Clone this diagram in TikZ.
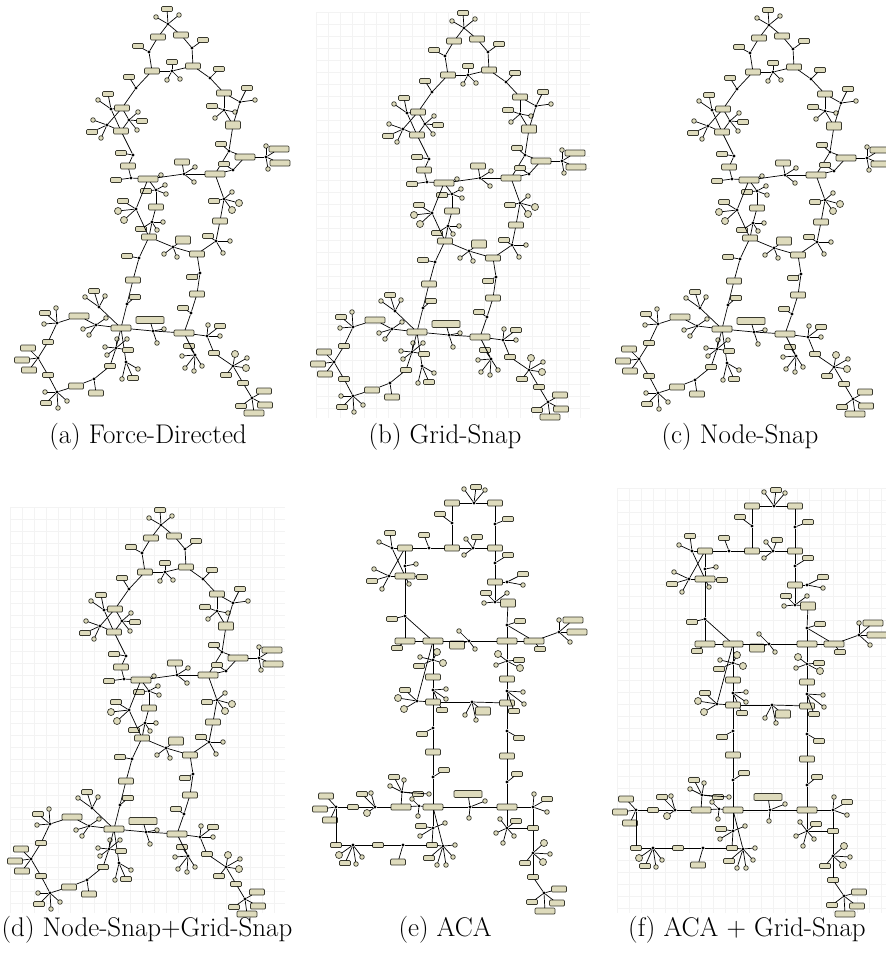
\documentclass[tikz,border=0pt]{standalone}
\definecolor{khaki}{RGB}{222,219,188}
\definecolor{nbord}{RGB}{55,55,45}
\definecolor{gridc}{RGB}{243,243,243}
\tikzset{
 ed/.style={line width=0.7pt, draw=black},
 nbase/.style={draw=nbord, fill=khaki, line width=0.7pt, inner sep=0pt, outer sep=0pt},
 rbox/.style={nbase, rectangle, rounded corners=1pt},
 rs/.style={rbox, minimum width=11pt, minimum height=5pt},
 rm/.style={rbox, minimum width=15pt, minimum height=6pt},
 rt/.style={rbox, minimum width=15pt, minimum height=8pt},
 rl/.style={rbox, minimum width=20pt, minimum height=6pt},
 rxl/.style={rbox, minimum width=28pt, minimum height=7pt},
 jd/.style={circle, fill=black, inner sep=0pt, minimum size=3.2pt},
 cs/.style={nbase, circle, minimum size=4.6pt},
 cl/.style={nbase, circle, minimum size=7pt},
 gl/.style={draw=gridc, line width=0.5pt},
 captext/.style={font=\fontsize{27}{32}\selectfont, inner sep=0pt}
}
\newcounter{lc}
\def\pfx{a}
\newcommand\Nd[4]{\node[#1] (\pfx#2) at (#3,#4) {};}
\newcommand\Ed[2]{\draw[ed] (\pfx#1) -- (\pfx#2);}
\newcommand\Lf[4]{\stepcounter{lc}\node[#1] (\pfx l\arabic{lc}) at (#2,#3) {};\draw[ed] (\pfx#4) -- (\pfx l\arabic{lc});}
\newcommand\FDgraph{%
\Nd{jd}{j1}{168}{24}\Lf{rs}{167}{9}{j1}\Lf{cs}{156}{17}{j1}\Lf{cs}{179}{15}{j1}
\Nd{rm}{r1}{158}{37}\Nd{rm}{r2}{181}{35}\Ed{j1}{r1}\Ed{j1}{r2}
\Nd{jd}{j2}{149}{52}\Lf{rs}{138}{46}{j2}\Ed{r1}{j2}
\Nd{jd}{j3}{192}{48}\Lf{rs}{203}{40}{j3}\Ed{r2}{j3}
\Nd{rm}{r3}{152}{71}\Nd{rm}{r4}{193}{66}\Ed{j2}{r3}\Ed{j3}{r4}
\Nd{jd}{j4}{172}{71}\Lf{rs}{172}{62}{j4}\Lf{cs}{167}{80}{j4}\Lf{cs}{180}{79}{j4}\Ed{r3}{j4}\Ed{j4}{r4}
\Nd{jd}{j5}{136}{88}\Lf{rs}{129}{77}{j5}\Ed{r3}{j5}
\Nd{rm}{r5}{122}{108}\Ed{j5}{r5}
\Nd{jd}{j6}{111}{109}\Lf{rs}{108}{94}{j6}\Lf{cs}{98}{100}{j6}
\Nd{jd}{j7}{129}{120}\Lf{cs}{138}{112}{j7}\Lf{rs}{142}{121}{j7}\Lf{cs}{137}{130}{j7}
\Nd{jd}{j8}{107}{125}\Lf{cs}{93}{120}{j8}\Lf{rs}{92}{132}{j8}\Lf{cs}{101}{138}{j8}
\Nd{rm}{r6}{121}{131}
\Ed{j6}{r5}\Ed{j6}{r6}\Ed{j8}{r5}\Ed{j8}{r6}\Ed{j7}{r5}\Ed{j7}{r6}
\Nd{jd}{j9}{133}{155}\Lf{rs}{121}{153}{j9}\Ed{r6}{j9}
\Nd{rm}{r7}{128}{166}\Ed{j9}{r7}
\Nd{jd}{j10}{131}{178}\Lf{rs}{116}{180}{j10}\Ed{r7}{j10}
\Nd{rl}{R8}{148}{179}\Ed{j10}{R8}\Lf{cs}{161}{175}{R8}
\Nd{jd}{j11}{210}{78}\Lf{rs}{219}{69}{j11}\Ed{r4}{j11}
\Nd{rm}{r9}{224}{93}\Ed{j11}{r9}
\Nd{jd}{j12}{240}{102}\Lf{rs}{247}{88}{j12}\Lf{cs}{255}{100}{j12}
\Nd{jd}{j13}{224}{110}\Lf{rs}{212}{106}{j13}\Lf{cs}{215}{118}{j13}\Lf{cs}{235}{112}{j13}
\Nd{rt}{r10}{233}{125}
\Ed{r9}{j12}\Ed{j12}{r10}\Ed{r9}{j13}\Ed{j13}{r10}
\Nd{jd}{j14}{229}{151}\Lf{rs}{221}{144}{j14}\Ed{r10}{j14}
\Nd{rl}{R11}{215}{174}\Ed{j14}{R11}
\Nd{rl}{r12}{245}{157}\Ed{j14}{r12}
\Nd{jd}{j15}{266}{157}\Lf{cs}{266}{146}{j15}\Lf{rl}{279}{149}{j15}\Lf{rl}{280}{163}{j15}\Lf{cs}{268}{169}{j15}\Ed{r12}{j15}
\Nd{jd}{j16}{233}{170}\Lf{rs}{224}{164}{j16}\Ed{r12}{j16}\Ed{j16}{R11}
\Nd{jd}{j17}{184}{174}\Lf{rm}{182}{162}{j17}\Lf{cs}{195}{167}{j17}\Lf{cs}{194}{182}{j17}\Ed{R8}{j17}\Ed{j17}{R11}
\Nd{jd}{j18}{156}{190}\Lf{cs}{165}{185}{j18}\Lf{cs}{166}{194}{j18}\Lf{rs}{146}{191}{j18}\Ed{R8}{j18}
\Nd{rm}{r13}{156}{207}\Ed{j18}{r13}
\Nd{jd}{j19}{136}{209}\Lf{rs}{123}{201}{j19}\Lf{cl}{118}{211}{j19}\Lf{cl}{124}{220}{j19}\Ed{R8}{j19}
\Nd{jd}{j20}{152}{222}\Lf{cs}{163}{222}{j20}\Lf{cs}{157}{230}{j20}\Lf{rs}{141}{229}{j20}\Ed{r13}{j20}
\Nd{rm}{R14}{149}{237}\Ed{j20}{R14}\Ed{j19}{R14}
\Nd{jd}{j21}{173}{247}\Lf{rt}{183}{240}{j21}\Lf{cs}{164}{254}{j21}\Lf{cs}{177}{257}{j21}\Ed{R14}{j21}
\Nd{rm}{r15}{197}{254}\Ed{j21}{r15}
\Nd{jd}{j22}{216}{241}\Lf{rs}{208}{236}{j22}\Lf{cs}{230}{241}{j22}\Lf{cs}{223}{253}{j22}\Ed{r15}{j22}
\Nd{rm}{r16}{220}{221}\Ed{j22}{r16}
\Nd{jd}{j23}{224}{199}\Lf{rs}{214}{201}{j23}\Lf{cs}{232}{192}{j23}\Lf{cl}{239}{203}{j23}\Lf{cl}{232}{210}{j23}\Ed{r16}{j23}\Ed{j23}{R11}
\Nd{jd}{j24}{139}{258}\Lf{rs}{127}{256}{j24}\Ed{R14}{j24}
\Nd{rm}{r17}{133}{280}\Ed{j24}{r17}
\Nd{jd}{j25}{127}{304}\Lf{rs}{135}{297}{j25}\Ed{r17}{j25}
\Nd{rl}{R18}{121}{328}\Ed{j25}{R18}
\Nd{jd}{j26}{200}{273}\Lf{rs}{192}{277}{j26}\Ed{r15}{j26}
\Nd{rm}{r19}{197}{294}\Ed{j26}{r19}
\Nd{jd}{j27}{191}{313}\Lf{rs}{183}{308}{j27}\Ed{r19}{j27}
\Nd{rl}{R20}{184}{333}\Ed{j27}{R20}
\Nd{jd}{j28}{153}{331}\Lf{rxl}{150}{320}{j28}\Lf{cs}{164}{329}{j28}\Lf{cs}{157}{343}{j28}\Ed{R18}{j28}\Ed{j28}{R20}
\Nd{jd}{j29}{207}{336}\Lf{cs}{208}{325}{j29}\Lf{rs}{220}{326}{j29}\Lf{cs}{220}{336}{j29}\Ed{R20}{j29}
\Nd{rs}{r21}{214}{353}\Ed{j29}{r21}
\Nd{jd}{j30}{195}{355}\Lf{rs}{189}{346}{j30}\Lf{cs}{182}{356}{j30}\Lf{cs}{185}{368}{j30}\Lf{cs}{194}{371}{j30}\Lf{cs}{202}{366}{j30}\Ed{R20}{j30}
\Nd{jd}{j31}{233}{366}\Lf{cl}{235}{354}{j31}\Lf{cs}{247}{358}{j31}\Lf{cl}{246}{368}{j31}\Lf{rs}{226}{375}{j31}\Ed{r21}{j31}
\Nd{rs}{r22}{243}{383}\Ed{j31}{r22}
\Nd{jd}{j32}{252}{398}\Lf{rm}{264}{391}{j32}\Lf{rm}{265}{405}{j32}\Lf{rl}{254}{413}{j32}\Lf{rs}{241}{406}{j32}\Ed{r22}{j32}
\Nd{jd}{j33}{99}{307}\Lf{rs}{94}{291}{j33}\Lf{cs}{85}{297}{j33}\Lf{cs}{105}{296}{j33}\Ed{j33}{R18}
\Nd{rl}{r23}{79}{316}
\Nd{jd}{j34}{96}{325}\Lf{cs}{106}{318}{j34}\Lf{cs}{83}{329}{j34}\Lf{cs}{89}{335}{j34}\Ed{r23}{j34}\Ed{j34}{R18}
\Nd{jd}{j35}{57}{323}\Lf{rs}{45}{313}{j35}\Lf{cs}{56}{308}{j35}\Lf{cs}{44}{324}{j35}\Ed{j35}{r23}
\Nd{rs}{r24}{48}{342}\Ed{j35}{r24}
\Nd{jd}{j36}{38}{358}\Lf{rm}{28}{348}{j36}\Lf{rm}{22}{360}{j36}\Lf{rm}{29}{370}{j36}\Ed{r24}{j36}
\Nd{rs}{r25}{48}{375}\Ed{j36}{r25}
\Nd{jd}{j37}{57}{392}\Lf{cs}{45}{392}{j37}\Lf{rs}{46}{403}{j37}\Lf{cs}{58}{408}{j37}\Lf{cs}{67}{401}{j37}\Ed{r25}{j37}
\Nd{rm}{r26}{76}{386}\Ed{j37}{r26}
\Nd{jd}{j38}{94}{379}\Lf{rm}{96}{393}{j38}\Ed{r26}{j38}
\Nd{rs}{r27}{110}{366}\Ed{j38}{r27}
\Nd{jd}{j39}{126}{362}\Lf{cs}{138}{369}{j39}\Lf{rs}{133}{378}{j39}\Lf{cs}{122}{379}{j39}\Ed{j39}{R18}
\Nd{jd}{j40}{116}{348}\Lf{cs}{105}{347}{j40}\Lf{cs}{107}{355}{j40}\Lf{cs}{117}{339}{j40}\Lf{cs}{127}{339}{j40}\Lf{rs}{128}{350}{j40}\Ed{r27}{j40}\Ed{j40}{R18}
}
\newcommand\ACAgraph{%
\Nd{jd}{A1}{474}{503}\Lf{rs}{476}{487}{A1}\Lf{cs}{464}{489}{A1}\Lf{cs}{485}{490}{A1}
\Nd{rm}{a1}{452}{503}\Nd{rm}{a2}{495}{503}\Ed{A1}{a1}\Ed{A1}{a2}
\Nd{jd}{A2}{452}{523}\Lf{rs}{440}{514}{A2}\Ed{a1}{A2}
\Nd{jd}{A3}{495}{524}\Lf{rs}{508}{519}{A3}\Ed{a2}{A3}
\Nd{rm}{a3}{452}{548}\Nd{rm}{a4}{495}{548}\Ed{A2}{a3}\Ed{A3}{a4}
\Nd{jd}{A4}{473}{548}\Lf{rs}{477}{537}{A4}\Lf{cs}{466}{539}{A4}\Lf{cs}{464}{555}{A4}\Ed{a3}{A4}\Ed{A4}{a4}
\Nd{jd}{A5}{429}{548}\Lf{rs}{424}{535}{A5}\Ed{a3}{A5}
\Nd{rm}{a5}{405}{548}\Ed{A5}{a5}
\Nd{jd}{X1}{392}{548}\Lf{rs}{390}{533}{X1}\Lf{cs}{379}{542}{X1}
\Nd{jd}{X2}{405}{566}\Lf{cs}{416}{564}{X2}
\Nd{rl}{a6}{405}{576}\Lf{rs}{422}{577}{a6}\Lf{cs}{409}{584}{a6}
\Nd{jd}{X3}{389}{576}\Lf{cs}{374}{569}{X3}\Lf{rs}{372}{581}{X3}\Lf{cs}{382}{589}{X3}
\Ed{a5}{X2}\Ed{X2}{a6}\Ed{X1}{a6}\Ed{a5}{X3}\Ed{X3}{a6}\Ed{X1}{a5}
\Nd{jd}{A6}{405}{616}\Lf{rs}{392}{619}{A6}\Ed{a6}{A6}
\Nd{rl}{a7}{405}{641}\Lf{rs}{397}{648}{a7}
\Nd{rl}{a8}{433}{641}
\Ed{A6}{a7}\Ed{A6}{a8}\Ed{a7}{a8}
\Nd{jd}{A7}{495}{563}\Lf{rs}{508}{555}{A7}\Ed{a4}{A7}
\Nd{rm}{a9}{495}{582}\Ed{A7}{a9}
\Nd{jd}{A8}{507}{582}\Lf{rs}{523}{574}{A8}\Lf{cs}{523}{585}{A8}\Ed{a9}{A8}
\Nd{jd}{A9}{495}{602}\Lf{rs}{486}{593}{A9}\Lf{cs}{484}{603}{A9}\Lf{cs}{507}{593}{A9}\Ed{a9}{A9}
\Nd{rt}{a9b}{508}{603}\Ed{A9}{a9b}
\Nd{jd}{A10}{507}{625}\Lf{rs}{520}{621}{A10}\Ed{a9b}{A10}
\Nd{rl}{a10}{507}{641}\Ed{A10}{a10}
\Nd{rl}{a11}{534}{641}\Lf{rs}{540}{649}{a11}\Ed{a10}{a11}\Ed{A10}{a11}
\Nd{jd}{A11}{559}{632}\Lf{rl}{573}{620}{A11}\Lf{rl}{577}{632}{A11}\Lf{cs}{570}{642}{A11}\Lf{cs}{559}{620}{A11}\Ed{a11}{A11}
\Nd{jd}{A12}{469}{641}\Lf{cs}{459}{631}{A12}\Lf{cs}{475}{649}{A12}\Lf{rt}{457}{645}{A12}\Ed{a8}{A12}\Ed{A12}{a10}
\Nd{jd}{A13}{433}{660}\Lf{cl}{437}{652}{A13}\Lf{cl}{443}{663}{A13}\Lf{cs}{420}{657}{A13}\Lf{rs}{419}{666}{A13}\Ed{a8}{A13}
\Nd{rm}{a12}{433}{677}\Ed{A13}{a12}
\Nd{jd}{A14}{433}{690}\Lf{cs}{446}{689}{A14}\Lf{cs}{446}{699}{A14}\Lf{rs}{442}{710}{A14}\Ed{a12}{A14}
\Nd{rm}{a13}{433}{702}\Ed{A14}{a13}
\Nd{jd}{A15}{417}{701}\Lf{rs}{405}{690}{A15}\Lf{cl}{398}{698}{A15}\Lf{cl}{404}{709}{A15}\Ed{A15}{a13}\Ed{A15}{a8}
\Nd{jd}{A16}{472}{702}\Lf{rt}{483}{711}{A16}\Lf{cs}{465}{715}{A16}\Lf{cs}{476}{720}{A16}\Ed{a13}{A16}
\Nd{rm}{a14}{507}{703}\Ed{A16}{a14}
\Nd{jd}{A18}{507}{661}\Lf{cl}{498}{654}{A18}\Lf{cl}{520}{668}{A18}\Lf{cs}{496}{665}{A18}\Lf{rs}{519}{660}{A18}\Ed{a10}{A18}
\Nd{rm}{a15}{507}{679}\Ed{A18}{a15}
\Nd{jd}{A17}{507}{691}\Lf{cs}{523}{692}{A17}\Lf{cs}{524}{704}{A17}\Lf{rs}{514}{711}{A17}\Ed{a15}{A17}\Ed{A17}{a14}
\Nd{jd}{A19}{433}{728}\Lf{rs}{422}{734}{A19}\Ed{a13}{A19}
\Nd{rm}{a16}{433}{752}\Ed{A19}{a16}
\Nd{jd}{A20}{433}{777}\Lf{rs}{444}{770}{A20}\Ed{a16}{A20}
\Nd{rl}{a17}{433}{807}\Ed{A20}{a17}
\Nd{jd}{A21}{507}{731}\Lf{rs}{519}{738}{A21}\Ed{a14}{A21}
\Nd{rm}{a18}{507}{756}\Ed{A21}{a18}
\Nd{jd}{A22}{507}{782}\Lf{rs}{517}{774}{A22}\Ed{a18}{A22}
\Nd{rl}{a19}{507}{807}\Ed{A22}{a19}
\Nd{jd}{A23}{470}{807}\Lf{rxl}{468}{794}{A23}\Lf{cs}{485}{801}{A23}\Lf{cs}{469}{818}{A23}\Ed{a17}{A23}\Ed{A23}{a19}
\Nd{jd}{A24}{533}{807}\Lf{cs}{534}{794}{A24}\Lf{rs}{547}{799}{A24}\Lf{cs}{547}{812}{A24}\Ed{a19}{A24}
\Nd{rs}{a20}{533}{828}\Ed{A24}{a20}
\Nd{jd}{A25}{507}{828}\Lf{rs}{516}{821}{A25}\Lf{cs}{500}{819}{A25}\Lf{cs}{496}{833}{A25}\Lf{cs}{503}{843}{A25}\Lf{cs}{514}{836}{A25}\Ed{a19}{A25}\Ed{A25}{a20}
\Nd{jd}{A26}{533}{853}\Lf{cl}{544}{843}{A26}\Lf{cl}{543}{862}{A26}\Lf{cs}{550}{854}{A26}\Lf{rs}{525}{863}{A26}\Ed{a20}{A26}
\Nd{rs}{a21}{533}{877}\Ed{A26}{a21}
\Nd{jd}{A27}{544}{893}\Lf{rm}{559}{889}{A27}\Lf{rm}{557}{903}{A27}\Lf{rl}{545}{911}{A27}\Lf{rs}{532}{902}{A27}\Ed{a21}{A27}
\Nd{jd}{A28}{419}{806}\Lf{cs}{418}{816}{A28}\Lf{cs}{412}{799}{A28}
\Nd{rl}{b1}{401}{807}\Ed{a17}{A28}\Ed{A28}{b1}
\Nd{jd}{A29}{402}{792}\Lf{rs}{394}{777}{A29}\Lf{cs}{404}{780}{A29}\Lf{cs}{390}{786}{A29}\Lf{rs}{418}{794}{A29}\Lf{cs}{429}{794}{A29}\Ed{A29}{b1}
\Nd{jd}{A30}{375}{807}\Lf{rs}{362}{794}{A30}\Lf{cs}{371}{793}{A30}\Lf{cl}{367}{813}{A30}\Ed{b1}{A30}
\Nd{rs}{b2}{353}{807}\Ed{A30}{b2}
\Nd{jd}{A31}{336}{807}\Lf{rm}{326}{796}{A31}\Lf{rm}{320}{809}{A31}\Lf{rm}{330}{820}{A31}\Ed{b2}{A31}
\Nd{rs}{b3}{336}{845}\Ed{A31}{b3}
\Nd{jd}{A32}{353}{845}\Lf{cl}{339}{855}{A32}\Lf{rs}{345}{863}{A32}\Lf{cs}{356}{864}{A32}\Lf{cs}{362}{857}{A32}\Ed{b3}{A32}
\Nd{rs}{b4}{378}{845}\Ed{A32}{b4}
\Nd{jd}{A33}{403}{845}\Lf{rm}{398}{862}{A33}\Ed{b4}{A33}
\Nd{rs}{b5}{432}{845}\Ed{A33}{b5}
\Nd{jd}{A34}{443}{846}\Lf{cs}{455}{845}{A34}\Lf{cs}{453}{857}{A34}\Lf{rs}{429}{858}{A34}\Lf{cs}{437}{865}{A34}\Lf{cs}{446}{865}{A34}\Ed{b5}{A34}\Ed{A34}{a17}
\Nd{jd}{A35}{433}{828}\Lf{rs}{421}{826}{A35}\Lf{cs}{445}{823}{A35}\Lf{cs}{420}{836}{A35}\Ed{a17}{A35}\Ed{A35}{b5}
}
\begin{document}
\begin{tikzpicture}[x=1pt,y=-1pt]
\useasboundingbox (0,0) rectangle (886,953);
\fill[white] (0,0) rectangle (886,953);
% background grids
\foreach \gx in {316,328,...,590} {\draw[gl] (\gx,12) -- (\gx,418);}
\foreach \gy in {12,24,...,418} {\draw[gl] (316,\gy) -- (590,\gy);}
\foreach \gx in {10,22,...,285} {\draw[gl] (\gx,507) -- (\gx,913);}
\foreach \gy in {507,519,...,913} {\draw[gl] (10,\gy) -- (285,\gy);}
\foreach \gx in {617,629,...,886} {\draw[gl] (\gx,488) -- (\gx,913);}
\foreach \gy in {488,500,...,913} {\draw[gl] (617,\gy) -- (886,\gy);}
% (a)
\def\pfx{a}\FDgraph
% (b)
\begin{scope}[shift={(296,4)}]\def\pfx{b}\FDgraph\end{scope}
% (c)
\begin{scope}[shift={(601,1)}]\def\pfx{c}\FDgraph\end{scope}
% (d)
\begin{scope}[shift={(-7,501)}]\def\pfx{d}\FDgraph\end{scope}
% (e)
\def\pfx{e}\ACAgraph
% (f)
\begin{scope}[shift={(300,3)}]\def\pfx{f}\ACAgraph\end{scope}
% captions
\node[captext] (capa) at (148,437) {(a) Force-Directed};
\node[captext] (capb) at (445,437) {(b) Grid-Snap};
\node[captext] (capc) at (740,437) {(c) Node-Snap};
\node[captext] (capd) at (147,930) {(d) Node-Snap+Grid-Snap};
\node[captext] (cape) at (445,930) {(e) ACA};
\node[captext] (capf) at (747,930) {(f) ACA + Grid-Snap};
\end{tikzpicture}
\end{document}
